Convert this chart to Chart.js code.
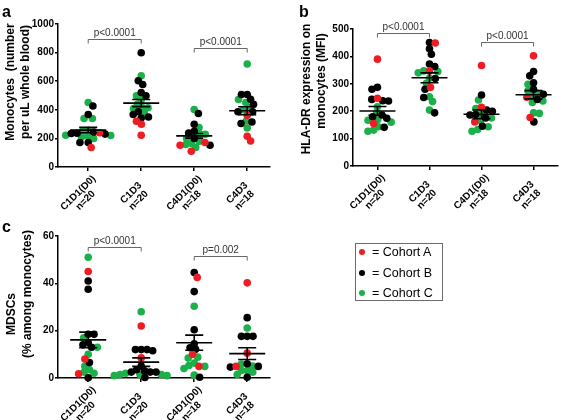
<!DOCTYPE html>
<html>
<head>
<meta charset="utf-8">
<title>Monocytes, HLA-DR and MDSCs by cycle</title>
<script src="https://cdn.jsdelivr.net/npm/chart.js@4.4.1/dist/chart.umd.min.js"></script>
<style>
  html, body { margin: 0; padding: 0; background: #fff; }
  #figure { position: relative; width: 563px; height: 420px; overflow: hidden;
            font-family: Arial, "Liberation Sans", Helvetica, sans-serif; }
  #figure canvas { position: absolute; left: 0; top: 0; }
  .panel-tag { position: absolute; font-size: 16px; font-weight: bold; line-height: 16px; }
  #legend { position: absolute; left: 355px; top: 243px; width: 88px; height: 58px;
            box-sizing: border-box; border: 1px solid #6b6b6b; }
  .legend-row { position: absolute; left: 0; height: 20px; line-height: 20px; font-size: 12.5px; white-space: nowrap; }
  .legend-dot { display: inline-block; width: 6px; height: 6px; border-radius: 50%; margin: 0 7px 0 3px; vertical-align: 1px; }
</style>
</head>
<body>
<div id="figure">
  <canvas id="chartA" width="563" height="420"></canvas>
  <canvas id="chartB" width="563" height="420"></canvas>
  <canvas id="chartC" width="563" height="420"></canvas>
  <div class="panel-tag" style="left:2px;top:4px">a</div>
  <div class="panel-tag" style="left:299px;top:4px">b</div>
  <div class="panel-tag" style="left:2px;top:219px">c</div>
  <div id="legend"></div>
</div>
<script>
const categories = [['C1D1(D0)', 'n=20'], ['C1D3', 'n=20'], ['C4D1(D0)', 'n=18'], ['C4D3', 'n=18']];
const cohorts = ['Cohort A', 'Cohort B', 'Cohort C'];

// a: monocytes per uL whole blood (one list per category, split by cohort)
const monoA = [[240, 136], [320, 299, 222], [171, 152, 110], [362, 215, 182]];
const monoB = [[427, 367, 236, 245, 234, 230, 171, 171], [799, 603, 577, 521, 498, 386, 367, 350, 343],
               [374, 299, 250, 238, 200, 152], [507, 507, 474, 439, 386, 386, 315, 304]];
const monoC = [[451, 339, 339, 257, 250, 222, 220, 215, 210, 200], [638, 498, 470, 439, 416, 414, 409, 378],
               [402, 276, 234, 229, 200, 180, 164, 157, 136], [720, 472, 451, 416, 400, 322, 273]];
const monoMean = [258, 447, 218, 393];
const monoSem = [19, 25, 16, 28];
const monoTicks = [0, 200, 400, 600, 800, 1000];
const monoP = ['p<0.0001', 'p<0.0001'];
const monoPLevel = [893, 830];

// b: HLA-DR expression on monocytes (MFI)
const hlaA = [[390, 247, 155], [449, 347, 287], [367, 214, 161], [402, 251, 177]];
const hlaB = [[287, 280, 243, 238, 237, 186, 180, 174, 141], [451, 428, 408, 372, 363, 319, 280, 250, 194],
              [259, 204, 200, 188, 186, 175, 145], [345, 329, 304, 280, 262, 243, 161]];
const hlaC = [[216, 195, 170, 167, 160, 143, 131, 127], [347, 345, 340, 320, 302, 253, 235, 204],
              [241, 210, 190, 175, 165, 143, 133, 127], [298, 274, 265, 255, 237, 232, 194, 192]];
const hlaMean = [201, 322, 189, 260];
const hlaSem = [16, 18, 16, 15];
const hlaTicks = [0, 100, 200, 300, 400, 500];
const hlaP = ['p<0.0001', 'p<0.0001'];
const hlaPLevel = [485, 451];

// c: MDSCs (% among monocytes)
const mdscA = [[45, 8, 1.8], [22, 8.5], [42.5, 10, 4.9], [40.2, 10.5, 4.9]];
const mdscB = [[41, 37.5, 18.5, 18.5, 15, 14, 13, 6.5, 0.1], [12, 12, 12, 11.5, 5, 3.5, 3, 2.5, 2.5, 2.5, 0.2],
               [44.6, 36.5, 20.4, 14.5, 12.8, 12.1, 0.3], [25.5, 17.6, 17.6, 17.6, 6.0, 4.9, 4.6, 0.3]];
const mdscC = [[51, 17, 13, 10, 5, 3.5, 2.5, 2], [28, 2, 1.5, 1.5, 1.5, 1, 1],
               [30.3, 8.8, 8.4, 6.3, 5.3, 4.9, 4.0, 1.2], [21.1, 5.9, 5, 3.2, 3.2, 2.5, 1.5]];
const mdscMean = [16.1, 6.7, 14.9, 10.3];
const mdscSem = [3.3, 1.8, 3.2, 2.5];
const mdscTicks = [0, 20, 40, 60];
const mdscP = ['p<0.0001', 'p=0.002'];
const mdscPLevel = [55.2, 51.5];

const pairs = [[0, 1], [2, 3]];

const FONT = 'Arial, "Liberation Sans", Helvetica, sans-serif';
const cohortColors = ['#ee1d23', '#000000', '#1cb04a'];
const dotR = 3.8;

// titlePos: centre of each rotated y-title line on the page
const panels = [
  { id: 'chartA', groups: [monoA, monoB, monoC], mean: monoMean, sem: monoSem, ticks: monoTicks,
    pLabels: monoP, pLevels: monoPLevel, title: ['Monocytes  (number', 'per uL whole blood)'],
    titlePos: [[10.5, 82], [25.5, 82]],
    area: { left: 58, top: 24, right: 270, bottom: 167 }, axisW: 58, xmin: 0.43, xmax: 4.43 },
  { id: 'chartB', groups: [hlaA, hlaB, hlaC], mean: hlaMean, sem: hlaSem, ticks: hlaTicks,
    pLabels: hlaP, pLevels: hlaPLevel, title: ['HLA-DR expression on', 'monocytes (MFI)'],
    titlePos: [[306.5, 89], [321.5, 81]],
    area: { left: 353, top: 29, right: 558, bottom: 166 }, axisW: 63, xmin: 0.53, xmax: 4.47 },
  { id: 'chartC', groups: [mdscA, mdscB, mdscC], mean: mdscMean, sem: mdscSem, ticks: mdscTicks,
    pLabels: mdscP, pLevels: mdscPLevel, title: ['MDSCs', '(% among monocytes)'],
    titlePos: [[12, 314], [27.5, 294]],
    area: { left: 58, top: 236, right: 270, bottom: 378 }, axisW: 58, xmin: 0.43, xmax: 4.43 }
];

function makeExtras(p) {
  return {
    id: 'dotPlotExtras',
    // mean +/- SEM bars drawn over the dots
    afterDatasetsDraw(chart) {
      const { ctx, scales: { x: xs, y: ys } } = chart;
      ctx.save();
      ctx.strokeStyle = '#000';
      ctx.lineWidth = 1.6;
      p.mean.forEach((m, gi) => {
        const cx = xs.getPixelForValue(gi + 1);
        const ym = ys.getPixelForValue(m);
        const yt = ys.getPixelForValue(m + p.sem[gi]);
        const yb = ys.getPixelForValue(m - p.sem[gi]);
        ctx.beginPath();
        ctx.moveTo(cx - 18, ym); ctx.lineTo(cx + 18, ym);
        ctx.moveTo(cx, yt); ctx.lineTo(cx, yb);
        ctx.moveTo(cx - 9, yt); ctx.lineTo(cx + 9, yt);
        ctx.moveTo(cx - 9, yb); ctx.lineTo(cx + 9, yb);
        ctx.stroke();
      });
      ctx.restore();
    },
    afterDraw(chart) {
      const { ctx, scales: { x: xs, y: ys } } = chart;
      ctx.save();
      // significance brackets
      pairs.forEach(([g1, g2], i) => {
        const x1 = xs.getPixelForValue(g1 + 1), x2 = xs.getPixelForValue(g2 + 1);
        const y = Math.round(ys.getPixelForValue(p.pLevels[i])) + 0.5;
        ctx.strokeStyle = '#666';
        ctx.lineWidth = 1;
        ctx.beginPath();
        ctx.moveTo(x1, y + 4); ctx.lineTo(x1, y); ctx.lineTo(x2, y); ctx.lineTo(x2, y + 4);
        ctx.stroke();
        ctx.fillStyle = '#333';
        ctx.font = '10px ' + FONT;
        ctx.textAlign = 'center';
        ctx.textBaseline = 'bottom';
        ctx.fillText(p.pLabels[i], (x1 + x2) / 2, y - 1.5);
      });
      // rotated two-line category labels, lines centred on each other
      const axisY = chart.chartArea.bottom;
      const lh = 10.5, k = Math.SQRT1_2;
      ctx.fillStyle = '#000';
      ctx.font = 'bold 10px ' + FONT;
      ctx.textAlign = 'center';
      ctx.textBaseline = 'middle';
      categories.forEach((lines, gi) => {
        const tx = xs.getPixelForValue(gi + 1);
        lines.forEach((line, j) => {
          ctx.save();
          ctx.translate(tx - 10 + j * lh * k, axisY + 26 + j * lh * k);
          ctx.rotate(-Math.PI / 4);
          ctx.fillText(line, 0, 0);
          ctx.restore();
        });
      });
      // y-axis title, two rotated lines
      ctx.font = 'bold 12px ' + FONT;
      p.title.forEach((line, j) => {
        ctx.save();
        ctx.translate(p.titlePos[j][0], p.titlePos[j][1]);
        ctx.rotate(-Math.PI / 2);
        ctx.fillText(line, 0, 0);
        ctx.restore();
      });
      ctx.restore();
    }
  };
}

// spread the dots of each category sideways (dots may overlap a little, as in the original)
function arrangeSwarm(chart) {
  const xs = chart.scales.x, ys = chart.scales.y;
  const minDist = 5.8;
  categories.forEach((cat, gi) => {
    const pts = [];
    chart.data.datasets.forEach(ds => ds.data.forEach(pt => { if (pt.g === gi) pts.push(pt); }));
    pts.sort((m, n) => n.y - m.y);
    const cx = xs.getPixelForValue(gi + 1);
    const placed = [];
    pts.forEach((pt, n) => {
      const py = ys.getPixelForValue(pt.y);
      const cands = [0];
      placed.forEach(q => {
        const dy = q.py - py;
        if (Math.abs(dy) < minDist) {
          const w = Math.sqrt(minDist * minDist - dy * dy);
          if (n % 2) cands.push(q.dx + w, q.dx - w);
          else cands.push(q.dx - w, q.dx + w);
        }
      });
      cands.sort((u, v) => Math.abs(u) - Math.abs(v));
      const dx = cands.find(c => placed.every(q => (q.dx - c) ** 2 + (q.py - py) ** 2 >= minDist * minDist - 0.01));
      placed.push({ dx, py });
      pt.x = xs.getValueForPixel(cx + dx);
    });
  });
  chart.update('none');
}

function buildChart(p) {
  const yw = p.axisW, xh = 10;
  const datasets = p.groups.map((groups, ci) => ({
    label: cohorts[ci],
    data: groups.flatMap((vals, gi) => vals.map(v => ({ x: gi + 1, y: v, g: gi }))),
    backgroundColor: cohortColors[ci],
    pointRadius: dotR,
    pointHoverRadius: dotR,
    borderWidth: 0,
    clip: false
  }));
  const chart = new Chart(document.getElementById(p.id), {
    type: 'scatter',
    data: { datasets },
    options: {
      responsive: false,
      animation: false,
      events: [],
      layout: { padding: { left: p.area.left - yw, top: p.area.top, right: 563 - p.area.right, bottom: 420 - p.area.bottom - xh } },
      plugins: { legend: { display: false }, tooltip: { enabled: false } },
      scales: {
        x: {
          type: 'linear', min: p.xmin, max: p.xmax,
          afterBuildTicks: s => { s.ticks = categories.map((c, i) => ({ value: i + 1 })); },
          afterFit: s => { s.height = xh; },
          ticks: { display: false },
          grid: { drawOnChartArea: false, tickLength: 4, color: '#000', lineWidth: 1.5 },
          border: { color: '#000', width: 1.5 }
        },
        y: {
          min: 0, max: p.ticks[p.ticks.length - 1],
          afterBuildTicks: s => { s.ticks = p.ticks.map(v => ({ value: v })); },
          afterFit: s => { s.width = yw; },
          ticks: { color: '#000', font: { family: FONT, size: 10, weight: 'bold' }, padding: 1,
                   callback: v => String(v) },
          grid: { drawOnChartArea: false, tickLength: 3, color: '#000', lineWidth: 1.5 },
          border: { color: '#000', width: 1.5 }
        }
      }
    },
    plugins: [makeExtras(p)]
  });
  arrangeSwarm(chart);
  return chart;
}

panels.forEach(buildChart);

// legend box
const legend = document.getElementById('legend');
cohorts.forEach((name, i) => {
  const row = document.createElement('div');
  row.className = 'legend-row';
  row.style.top = (i * 20.5 - 2) + 'px';
  const dot = document.createElement('span');
  dot.className = 'legend-dot';
  dot.style.background = cohortColors[i];
  row.appendChild(dot);
  row.appendChild(document.createTextNode('= ' + name));
  legend.appendChild(row);
});
</script>
</body>
</html>
